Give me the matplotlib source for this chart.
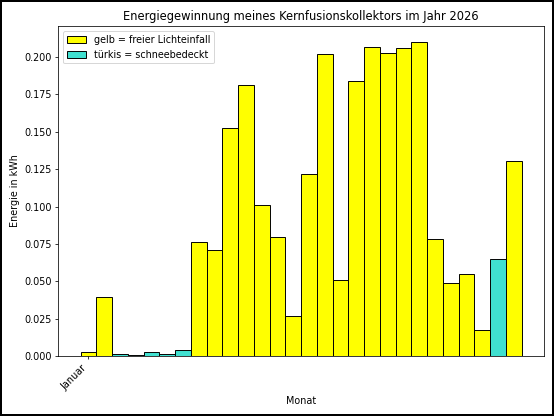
import numpy as np
import matplotlib.pyplot as plt
from matplotlib.patches import Patch

# Energie pro Balken (kWh), von links nach rechts
energie = [0.0027, 0.0395, 0.0015, 0.0006, 0.0028, 0.0011, 0.0037,
           0.0763, 0.0708, 0.1525, 0.1815, 0.1008, 0.0795, 0.0265,
           0.1220, 0.2018, 0.0508, 0.1840, 0.2067, 0.2025, 0.2060,
           0.2102, 0.0785, 0.0490, 0.0548, 0.0175, 0.0648, 0.1305]
schnee = [False, False, True, True, True, True, True,
          False, False, False, False, False, False, False,
          False, False, False, False, False, False, False,
          False, False, False, False, False, True, False]
tick_labels = ["Januar"]

farben = ["turquoise" if s else "yellow" for s in schnee]

dpi = 554 / 8
fig = plt.figure(figsize=(8, 416 / dpi), dpi=dpi, edgecolor="black", linewidth=2.5)
ax = fig.add_subplot(111)

x = np.arange(len(energie))
ax.bar(x, energie, width=1.0, color=farben, edgecolor="black")

ax.set_xticks([0])
ax.set_xticklabels(tick_labels, rotation=45, ha="right")
ax.set_xlabel("Monat")
ax.set_ylabel("Energie in kWh")
ax.set_title("Energiegewinnung meines Kernfusionskollektors im Jahr 2026")

handles = [Patch(facecolor="yellow", edgecolor="black", label="gelb = freier Lichteinfall"),
           Patch(facecolor="turquoise", edgecolor="black", label="türkis = schneebedeckt")]
ax.legend(handles=handles, loc="upper left")

fig.tight_layout()
fig.savefig("out.png", dpi=dpi, edgecolor=fig.get_edgecolor())
